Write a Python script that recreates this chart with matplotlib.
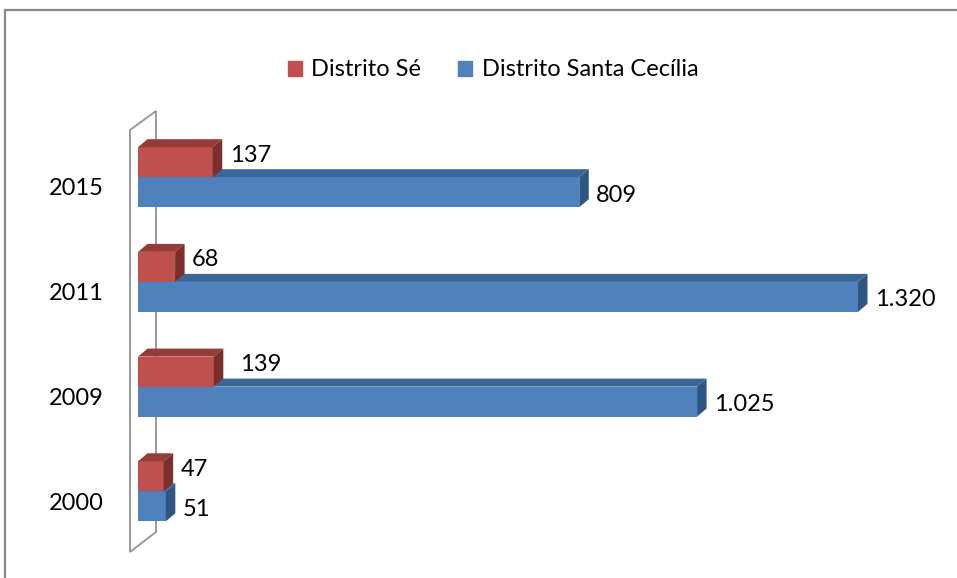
import matplotlib.pyplot as plt
from matplotlib.patches import Polygon, Rectangle

years = ['2000', '2009', '2011', '2015']
se = [47, 139, 68, 137]
santa_cecilia = [51, 1025, 1320, 809]
se_nudge = [0, 9, 0, 0]  # extra label shift in px, as in the original

plt.rcParams['font.family'] = ['Lato', 'DejaVu Sans']
FS = 17

fig = plt.figure(figsize=(9.57, 5.78), dpi=100)
ax = fig.add_axes([138 / 957, 24.6 / 578, 720 / 957, 418.8 / 578])
ax.set_xlim(0, 1320)
ax.set_ylim(-0.5, 3.5)

# data units per pixel
ux = 1320 / 720
uy = 4 / 418.8
dx, dy = 9.5 * ux, 8 * uy
h = 30 * uy


def py(p):
    return 3.5 - (p - 134.6) * uy


def px(p):
    return (p - 138) * ux


# back wall outline
wall = Polygon([(px(130), py(552)), (px(130), py(130)), (px(156), py(111)),
                (px(156), py(532))], closed=True, fill=False,
               edgecolor='#9a9a9a', lw=1.4, zorder=1, clip_on=False)
ax.add_patch(wall)

ypos = range(len(years))
blue_y = [i - 0.05 - h / 2 for i in ypos]
red_y = [b + h for b in blue_y]

series = [
    (santa_cecilia, blue_y, '#4f81bd', '#3d6698', '#2f5583', 3, -3),
    (se, red_y, '#c0504d', '#933c39', '#7b2f2d', 4, 7),
]

for vals, ys, front, top, side, z, lab_dy in series:
    bars = ax.barh(ys, vals, height=h, align='edge', color=front,
                   zorder=z, clip_on=False)
    for i, b in enumerate(bars):
        x0, y0, w, hh = b.get_x(), b.get_y(), b.get_width(), b.get_height()
        ax.add_patch(Polygon([(x0, y0 + hh), (x0 + w, y0 + hh),
                              (x0 + w + dx, y0 + hh + dy), (x0 + dx, y0 + hh + dy)],
                             color=top, zorder=z, clip_on=False, lw=0))
        ax.add_patch(Polygon([(x0 + w, y0), (x0 + w + dx, y0 + dy),
                              (x0 + w + dx, y0 + hh + dy), (x0 + w, y0 + hh)],
                             color=side, zorder=z, clip_on=False, lw=0))
        extra = se_nudge[i] if vals is se else 0
        ax.annotate(f'{vals[i]:,}'.replace(',', '.'),
                    xy=(x0 + w + dx, y0 + hh / 2),
                    xytext=((7.5 + extra) * 0.72, lab_dy * 0.72),
                    textcoords='offset points', ha='left', va='center',
                    fontsize=FS, color='black', zorder=6,
                    annotation_clip=False)

ax.set_yticks(list(ypos))
ax.set_yticklabels(years, fontsize=FS)
ax.tick_params(axis='y', length=0, pad=25)
ax.set_xticks([])
for s in ax.spines.values():
    s.set_visible(False)
ax.patch.set_visible(False)

# legend
handles = [Rectangle((0, 0), 1, 1, color='#c0504d'),
           Rectangle((0, 0), 1, 1, color='#4f81bd')]
fig.legend(handles, ['Distrito Sé', 'Distrito Santa Cecília'], loc='center',
           bbox_to_anchor=(493 / 957, 1 - 70 / 578), ncol=2, frameon=False,
           fontsize=FS, handlelength=0.6, handleheight=0.6,
           handletextpad=0.4, columnspacing=1.55)

# outer chart border (partly cut off at right and bottom)
fig.add_artist(Rectangle((4.5 / 957, -0.1), 1.2, (578 - 10.5) / 578 + 0.1,
                         transform=fig.transFigure, fill=False,
                         edgecolor='#898989', lw=1.6))

fig.savefig('out.png', dpi=100)
